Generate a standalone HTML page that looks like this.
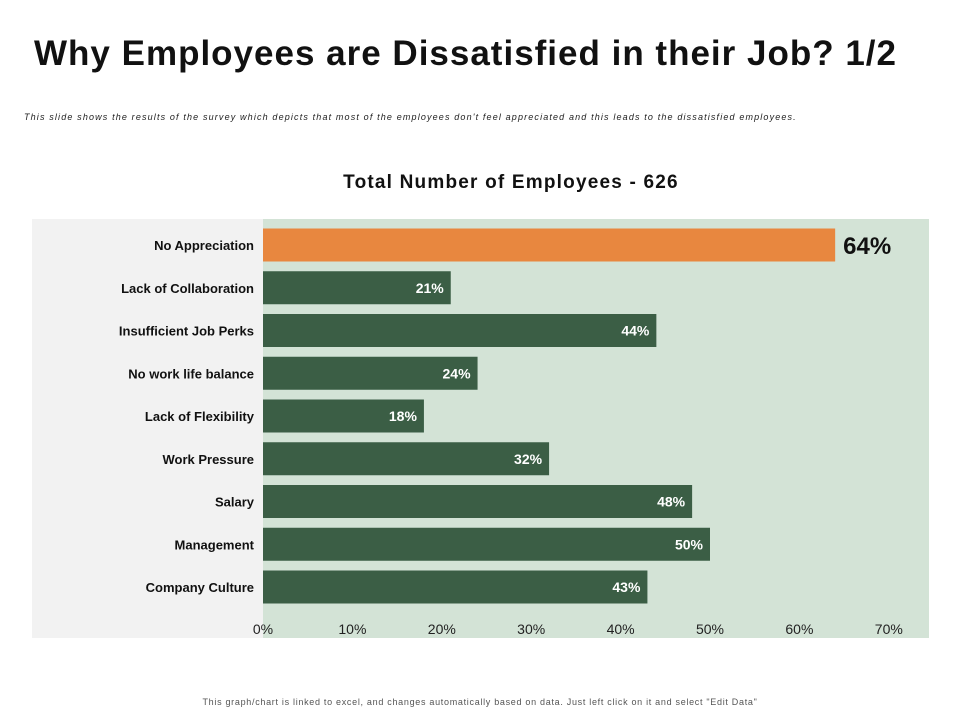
<!DOCTYPE html>
<html><head><meta charset="utf-8"><style>
body{margin:0;width:960px;height:720px;background:#fff;font-family:"Liberation Sans",sans-serif;position:relative;overflow:hidden}
.t{position:absolute;white-space:nowrap}
</style></head><body>
<div class="t" style="left:34px;top:34px;font-size:35px;letter-spacing:1px;font-weight:bold;color:#111">Why Employees are Dissatisfied in their Job? 1/2</div>
<div class="t" style="left:24px;top:112px;font-size:9px;letter-spacing:1.15px;font-style:italic;color:#222">This slide shows the results of the survey which depicts that most of the employees don't feel appreciated and this leads to the dissatisfied employees.</div>
<div class="t" style="left:0;width:1022px;text-align:center;top:172px;font-size:19px;letter-spacing:1.2px;font-weight:bold;color:#111">Total Number of Employees - 626</div>
<svg class="t" style="left:0;top:0" width="960" height="720">
<rect x="210" y="219" width="719" height="419" fill="#d3e3d6"/>
<rect x="32" y="219" width="231" height="419" fill="#f2f2f2"/>
<g id="g"></g>
</svg>
<div class="t" style="left:0;width:960px;text-align:center;top:697px;font-size:9px;letter-spacing:0.7px;color:#555">This graph/chart is linked to excel, and changes automatically based on data. Just left click on it and select "Edit Data"</div>
<script>
const categories=["No Appreciation","Lack of Collaboration","Insufficient Job Perks","No work life balance","Lack of Flexibility","Work Pressure","Salary","Management","Company Culture"];
const values=[64,21,44,24,18,32,48,50,43];
const ticks=[0,10,20,30,40,50,60,70];
const x0=263,pxPer=8.94;
const xs=v=>x0+v*pxPer;
const ys=i=>245+i*42.75;
const g=document.getElementById('g');const NS='http://www.w3.org/2000/svg';
function mk(t,a){const e=document.createElementNS(NS,t);for(const k in a)e.setAttribute(k,a[k]);g.appendChild(e);return e;}
categories.forEach((c,i)=>{
 const y=ys(i),v=values[i],hi=i===0;
 const r=mk('rect',{x:x0,y:y-16.5,width:xs(v)-x0,height:33,fill:hi?'#e8873f':'#3b5e45'});
 
 
 const l=mk('text',{x:254,y:y+5,'text-anchor':'end','font-size':13,'font-weight':'bold',fill:'#111'});l.textContent=c;
 
 
 let vt;
 if(hi){vt=mk('text',{x:xs(v)+8,y:y+9,'font-size':24,'font-weight':'bold',fill:'#111'});}
 else{vt=mk('text',{x:xs(v)-7,y:y+5,'text-anchor':'end','font-size':14,'font-weight':'bold',fill:'#fff'});}
 vt.textContent=v+'%';
 
 
});
ticks.forEach(t=>{
 const e=mk('text',{x:xs(t),y:634,'text-anchor':'middle','font-size':14,fill:'#222'});e.textContent=t+'%';
 
 
});
</script>
</body></html>
